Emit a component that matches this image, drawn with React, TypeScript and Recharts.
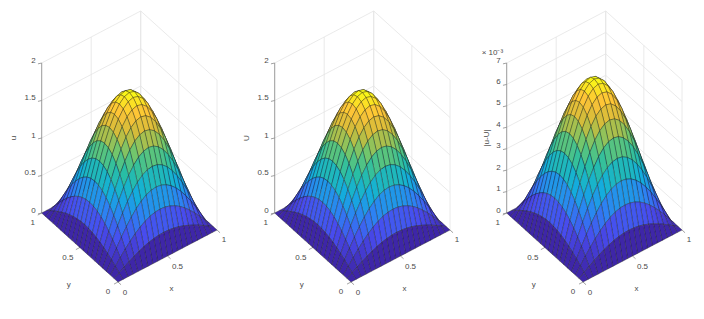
import React from 'react';
import { ScatterChart, Scatter, XAxis, YAxis } from 'recharts';

// the surface is symmetric, so only the quadrant up to x = y = 0.5 is listed
// (11 x 11 nodes of the 21 x 21 mesh), heights
const uQuadrant: number[][] = [
  [0, 0, 0, 0, 0, 0, 0, 0, 0, 0, 0],
  [0, .042, .083, .122, .158, .19, .218, .24, .256, .266, .269],
  [0, .083, .164, .241, .312, .376, .43, .474, .505, .525, .531],
  [0, .122, .241, .355, .459, .552, .632, .696, .743, .771, .781],
  [0, .158, .312, .459, .594, .715, .818, .901, .962, .999, 1.011],
  [0, .19, .376, .552, .715, .86, .984, 1.084, 1.157, 1.201, 1.216],
  [0, .218, .43, .632, .818, .984, 1.125, 1.24, 1.324, 1.374, 1.391],
  [0, .24, .474, .696, .901, 1.084, 1.24, 1.366, 1.458, 1.514, 1.533],
  [0, .256, .505, .743, .962, 1.157, 1.324, 1.458, 1.556, 1.616, 1.636],
  [0, .266, .525, .771, .999, 1.201, 1.374, 1.514, 1.616, 1.678, 1.699],
  [0, .269, .531, .781, 1.011, 1.216, 1.391, 1.533, 1.636, 1.699, 1.72],
];

// U can't be told apart from u at this size
const uhQuadrant = uQuadrant;

// in units of 10^-3
const errQuadrant: number[][] = [
  [0, 0, 0, 0, 0, 0, 0, 0, 0, 0, 0],
  [0, .163, .321, .472, .611, .735, .841, .927, .989, 1.027, 1.04],
  [0, .321, .635, .933, 1.208, 1.453, 1.662, 1.831, 1.954, 2.03, 2.055],
  [0, .472, .933, 1.371, 1.775, 2.135, 2.443, 2.69, 2.871, 2.982, 3.019],
  [0, .611, 1.208, 1.775, 2.298, 2.764, 3.162, 3.483, 3.718, 3.861, 3.909],
  [0, .735, 1.453, 2.135, 2.764, 3.325, 3.804, 4.19, 4.472, 4.644, 4.702],
  [0, .841, 1.662, 2.443, 3.162, 3.804, 4.352, 4.793, 5.117, 5.314, 5.38],
  [0, .927, 1.831, 2.69, 3.483, 4.19, 4.793, 5.279, 5.636, 5.852, 5.925],
  [0, .989, 1.954, 2.871, 3.718, 4.472, 5.117, 5.636, 6.016, 6.247, 6.325],
  [0, 1.027, 2.03, 2.982, 3.861, 4.644, 5.314, 5.852, 6.247, 6.487, 6.568],
  [0, 1.04, 2.055, 3.019, 3.909, 4.702, 5.38, 5.925, 6.325, 6.568, 6.65],
];

const meshNodes = [0, .05, .1, .15, .2, .25, .3, .35, .4, .45, .5, .55, .6, .65, .7, .75, .8, .85, .9, .95, 1];
const xyTicks = [0, 0.5, 1];
const uTicks = [0, 0.5, 1, 1.5, 2];
const errTicks = [0, 1, 2, 3, 4, 5, 6, 7];

const parula: [number, number, number][] = [
  [62, 38, 168], [72, 75, 238], [45, 130, 243], [18, 175, 220], [40, 190, 165],
  [110, 198, 110], [205, 187, 58], [254, 195, 55], [249, 251, 21],
];

const CHART_W = 239;
const CHART_H = 319;
const TEXT = '#4a4a4a';
const FONT = '"Liberation Sans", Arial, sans-serif';

const unfold = (quadrant: number[][]) => {
  const wide = quadrant.map((r) => [...r, ...r.slice(0, -1).reverse()]);
  return [...wide, ...wide.slice(0, -1).reverse()];
};

const colorAt = (t: number) => {
  const p = Math.min(Math.max(t, 0), 1) * (parula.length - 1);
  const i = Math.min(Math.floor(p), parula.length - 2);
  const f = p - i;
  const c = parula[i].map((v, k) => Math.round(v + (parula[i + 1][k] - v) * f));
  return `rgb(${c[0]},${c[1]},${c[2]})`;
};

// fixed orthographic view of the unit box, same for all panels
const project = (x: number, y: number, z: number, zMax: number) => ({
  sx: 118 + 99 * x - 76.3 * y,
  sy: 282 - 52 * x - 69 * y - (150 * z) / zMax,
});

const segment = (a: number[], b: number[], zMax: number) => {
  const p = project(a[0], a[1], a[2], zMax);
  const q = project(b[0], b[1], b[2], zMax);
  return { ...p, dx: q.sx - p.sx, dy: q.sy - p.sy };
};

const FaceShape = (props: any) => {
  const { cx, cy, payload } = props;
  const pts = payload.offsets.map((o: number[]) => `${cx + o[0]},${cy + o[1]}`).join(' ');
  return <polygon points={pts} fill={payload.fill} stroke="#1a1a1a" strokeWidth={0.35} strokeLinejoin="round" />;
};

const lineShape = (stroke: string, width: number) => (props: any) => {
  const { cx, cy, payload } = props;
  return <line x1={cx} y1={cy} x2={cx + payload.dx} y2={cy + payload.dy} stroke={stroke} strokeWidth={width} />;
};

const LabelShape = (props: any) => {
  const { cx, cy, payload } = props;
  return (
    <text
      x={cx + payload.ox}
      y={cy + payload.oy}
      textAnchor={payload.anchor}
      dominantBaseline="central"
      fontSize={payload.size || 8}
      fontFamily={FONT}
      fill={TEXT}
      transform={payload.rotate ? `rotate(-90 ${cx + payload.ox} ${cy + payload.oy})` : undefined}
    >
      {payload.text}
    </text>
  );
};

interface PanelProps {
  left: number;
  quadrant: number[][];
  zMax: number;
  zTicks: number[];
  zName: string;
  zNameOffset: number;
  exponent?: boolean;
}

const Panel: React.FC<PanelProps> = ({ left, quadrant, zMax, zTicks, zName, zNameOffset, exponent }) => {
  const rows = unfold(quadrant);
  const peak = Math.max(...rows.map((r) => Math.max(...r)));
  const last = meshNodes.length - 1;

  // far corner first, so nearer faces paint over
  const faces: any[] = [];
  for (let j = last - 1; j >= 0; j--) {
    for (let i = last - 1; i >= 0; i--) {
      const at = (a: number, b: number) => project(meshNodes[a], meshNodes[b], rows[b][a], zMax);
      const p = at(i, j);
      const corners = [p, at(i + 1, j), at(i + 1, j + 1), at(i, j + 1)];
      faces.push({
        ...p,
        fill: colorAt(rows[j][i] / peak),
        offsets: corners.map((c) => [c.sx - p.sx, c.sy - p.sy]),
      });
    }
  }

  const grid: any[] = [];
  zTicks.forEach((z) => {
    grid.push(segment([0, 1, z], [1, 1, z], zMax), segment([1, 1, z], [1, 0, z], zMax));
  });
  [0, 0.5, 1].forEach((v) => {
    grid.push(segment([v, 1, 0], [v, 1, zMax], zMax), segment([1, v, 0], [1, v, zMax], zMax));
    grid.push(segment([v, 0, 0], [v, 1, 0], zMax), segment([0, v, 0], [1, v, 0], zMax));
  });

  const axes: any[] = [segment([0, 1, 0], [0, 1, zMax], zMax)];
  zTicks.forEach((z) => axes.push(segment([0, 1, z], [-0.03, 1.01, z], zMax)));
  xyTicks.forEach((v) => {
    axes.push(segment([v, 0, 0], [v, -0.04, 0], zMax));
    axes.push(segment([0, v, 0], [-0.04, v, 0], zMax));
  });

  const labels: any[] = [];
  zTicks.forEach((z) => labels.push({ ...project(0, 1, z, zMax), text: String(z), ox: -6, oy: -3, anchor: 'end' }));
  const xOff: Record<number, number[]> = { 0: [7, 10], 0.5: [10, 10], 1: [7, 9] };
  const yOff: Record<number, number[]> = { 0: [-10, 9], 0.5: [-12, 10], 1: [-9, 9] };
  xyTicks.forEach((v) => {
    labels.push({ ...project(v, 0, 0, zMax), text: String(v), ox: xOff[v][0], oy: xOff[v][1], anchor: 'middle' });
    labels.push({ ...project(0, v, 0, zMax), text: String(v), ox: yOff[v][0], oy: yOff[v][1], anchor: 'middle' });
  });
  labels.push({ ...project(0.5, 0, 0, zMax), text: 'x', ox: 4, oy: 32, anchor: 'middle' });
  labels.push({ ...project(0, 0.5, 0, zMax), text: 'y', ox: -11, oy: 37, anchor: 'middle' });
  labels.push({ ...project(0, 1, zMax / 2, zMax), text: zName, ox: zNameOffset, oy: 0, anchor: 'middle', rotate: true });

  return (
    <div style={{ position: 'absolute', left, top: 0, width: CHART_W, height: CHART_H }}>
      <ScatterChart width={CHART_W} height={CHART_H} margin={{ top: 0, right: 0, bottom: 0, left: 0 }}>
        <XAxis type="number" dataKey="sx" domain={[0, CHART_W]} hide allowDataOverflow />
        <YAxis type="number" dataKey="sy" domain={[0, CHART_H]} reversed hide allowDataOverflow />
        <Scatter data={grid} shape={lineShape('#e4e4e4', 0.8)} isAnimationActive={false} />
        <Scatter data={axes} shape={lineShape('#8a8a8a', 0.8)} isAnimationActive={false} />
        <Scatter data={faces} shape={FaceShape} isAnimationActive={false} />
        <Scatter data={labels} shape={LabelShape} isAnimationActive={false} />
        {exponent && (
          <Scatter
            data={[{ ...project(0, 1, zMax, zMax), text: '× 10⁻³', ox: -25, oy: -11, anchor: 'start' }]}
            shape={LabelShape}
            isAnimationActive={false}
          />
        )}
      </ScatterChart>
    </div>
  );
};

export default function App() {
  return (
    <div style={{ position: 'absolute', left: 0, top: 0, width: 704, height: 319, background: '#fff', overflow: 'hidden' }}>
      <Panel left={0} quadrant={uQuadrant} zMax={2} zTicks={uTicks} zName="u" zNameOffset={-28} />
      <Panel left={232.5} quadrant={uhQuadrant} zMax={2} zTicks={uTicks} zName="U" zNameOffset={-28} />
      <Panel left={465} quadrant={errQuadrant} zMax={7} zTicks={errTicks} zName="|u-U|" zNameOffset={-20} exponent />
    </div>
  );
}
